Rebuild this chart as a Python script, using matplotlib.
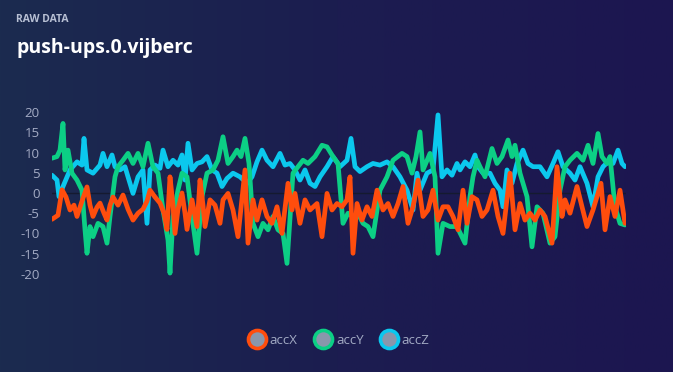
import numpy as np
import matplotlib
matplotlib.use("Agg")
import matplotlib.pyplot as plt
from matplotlib.lines import Line2D
from matplotlib.colors import LinearSegmentedColormap

# ---- data (sample position, value) ----
accX_t = [52,58,62,66,70,74,77,82,87,90,93,97,100,104,107,110,113,118,123,128,133,138,143,147,150,155,160,164,167,170,173,175,178,182,185,187,192,197,200,203,205,210,215,220,
          223,228,233,238,245,248,253,257,262,267,272,277,282,288,292,295,300,305,310,317,322,327,332,337,342,347,350,353,357,362,367,372,377,383,388,393,398,403,408,413,418,423,428,433,438,443,
          448,453,458,463,467,472,477,482,487,493,498,503,510,515,520,525,530,535,540,545,552,557,562,565,570,577,582,587,593,601,605,610,615,620,625]
accX_v = [-6.5,-5.5,0.8,-1,-4.2,-3,-5.8,-2,1.5,-3,-5.8,-3.5,-2.5,-5,-6.7,-3,-1,-3,-0.5,-4,-6.7,-5,-4,-2,0.7,-1,-2.5,-5,-9,4,-3,-10,-4,0,-5,-9,-1.7,-8.3,3.2,-3,-8.3,-1.7,-3,-7.5,
          -1.7,-0.1,-4.2,-10.8,5.7,-12.4,-1.7,-6.7,-1.7,-5.8,-7.5,-3.4,-10,2.4,-4.2,-0.1,-7.5,-1.7,-4.2,-2.6,-10.8,-0.1,-4.2,-2.6,-3.4,-1.7,4,-14.9,-2.6,-6.7,-3.4,-5.8,0.7,-4.2,-2.6,-5.8,-2.6,1.6,-7.5,-3.4,3.2,-5.8,-4.2,0.7,-6.7,-3.4,
          -3.4,-5.8,-9.1,0.7,-7.5,-0.9,-1.7,-5.8,-4.2,0.7,-5.8,-10,4.9,-9.1,-2.6,-6.7,-5,-6.7,-4.2,-5.8,-12.4,6.5,-5.8,-1.7,-5,1.6,-3.4,-8.3,-4.2,2.4,-9.1,-0.9,-5.8,0.7,-7.5]

accY_t = [52,57,60,63,65,68,72,77,82,85,87,90,93,98,103,107,110,115,118,123,128,133,138,143,148,153,158,163,168,170,173,178,182,187,192,197,202,207,213,218,223,228,
          233,237,241,245,249,253,258,263,268,273,278,283,287,293,298,303,308,315,322,327,333,338,343,348,353,358,363,368,373,380,387,393,402,407,412,416,420,423,430,435,438,
          443,450,457,465,470,473,477,480,485,492,497,502,508,512,515,520,527,532,537,543,550,555,560,565,570,577,583,588,593,598,602,607,610,615,620,625]
accY_v = [8.6,9,10.6,17.2,5.7,10.6,4.9,3.2,0.7,-9.1,-14.9,-8.3,-10.8,-7.5,-8.3,-12.4,-5.8,4,6.5,8.1,9.8,7.3,9.8,6.5,12.3,6.5,4.9,-4.2,-11.6,-19.8,-5.8,0.7,4.9,4,-5.8,-14.9,-0.9,4.9,5.7,8.1,13.9,7.3,
          9,10.6,9,13.5,7.3,-7.5,-10.8,-7.5,-9.1,-5.8,-9.1,-10,-17.4,4.9,6.5,8.1,7.3,9,11.8,11.4,9,7.3,-7.5,-5,-5.8,-5,-7.5,-8.3,-10.8,0.7,4,8.1,9.8,9,4.9,9,15.1,5.7,9.8,4,-14.9,
          -7.5,-8.3,-8.3,-12.4,-0.9,4,8.1,6.5,4,11,7.3,9,13.1,9,11.8,4.9,-0.9,-13.3,-3.4,-5,-12.4,-10.8,0.7,6.5,8.1,9.8,8.1,11.8,7.3,14.7,9,7.3,9,-3.4,-7.5,-7.9]

accZ_t = [52,57,59,63,70,77,82,84,87,93,100,103,107,112,115,120,125,128,133,138,143,147,150,155,160,163,168,173,178,182,185,188,192,197,202,207,212,217,222,227,
          233,240,247,252,257,262,267,273,280,285,290,295,300,305,310,315,320,327,333,340,347,351,355,360,367,373,380,387,393,400,407,413,417,420,427,433,438,442,
          447,452,457,460,465,470,475,478,483,490,495,500,503,507,512,517,523,528,533,540,547,553,558,563,570,575,580,587,593,598,603,608,613,618,622,625]
accZ_v = [4.4,3.2,-0.9,1.6,5.7,7.7,6.9,13.5,5.7,4.9,6.9,9.8,6.5,9.4,6.5,5.7,6.5,4,-0.1,4,5.7,-7.5,5.7,6.9,6.1,10.6,6.5,8.1,6.9,9.4,3.2,12.3,5.7,7.3,7.7,9,5.7,4.9,1.6,3.6,
          4.9,4,2.4,4,7.7,10.6,8.1,6.5,9.8,6.9,7.3,5.7,3.2,5.7,2.4,1.6,4,6.5,9,6.5,8.1,13.5,6.5,5.3,6.5,7.3,6.9,7.7,6.5,4,0.7,-4.2,4.9,0.7,4.9,5.7,19.3,4,
          5.7,4.4,7.3,5.7,7.7,6.5,9.4,6.5,4.9,4.9,2.4,0.7,-3.4,5.7,2.4,7.3,10.6,7.3,6.5,6.5,4,7.3,10.2,6.5,4.9,3.2,6.5,2.4,-3.4,4,6.5,7.7,7.3,10.6,7.3,6.5]

series = ["accX", "accY", "accZ"]
colors = {"accX": "#ff4d0d", "accY": "#0ccf85", "accZ": "#0bc8ee"}
yticks = [20, 15, 10, 5, 0, -5, -10, -15, -20]

W, H = 673, 372
fig = plt.figure(figsize=(W / 100, H / 100), dpi=100)

# background gradient
bg = fig.add_axes([0, 0, 1, 1], zorder=-10)
cmap = LinearSegmentedColormap.from_list("bg", ["#1b2b4f", "#1c1d50", "#1c1650"])
grad = np.linspace(0, 1, 256).reshape(1, -1)
bg.imshow(grad, aspect="auto", cmap=cmap, extent=[0, 1, 0, 1])
bg.set_axis_off()

ax = fig.add_axes([52 / W, 1 - 282 / H, 574 / W, 178 / H])
ax.patch.set_alpha(0)
ax.set_xlim(52, 626)
ax.set_ylim(-22, 22)

ax.axhline(0, color="#151a30", lw=1.0, zorder=1)

data = {"accX": (accX_t, accX_v), "accY": (accY_t, accY_v), "accZ": (accZ_t, accZ_v)}
order = {"accZ": 2, "accY": 3, "accX": 4}
for s in series:
    t, v = data[s]
    ax.plot(t, v, color=colors[s], lw=3.4, solid_joinstyle="round",
            solid_capstyle="round", zorder=order[s])

ax.set_yticks(yticks)
ax.set_yticklabels([str(y) for y in yticks])
ax.set_xticks([])
for sp in ax.spines.values():
    sp.set_visible(False)
ax.tick_params(axis="y", length=0, pad=9, labelsize=9.5, labelcolor="#a3abc4")
for lab in ax.get_yticklabels():
    lab.set_fontfamily("Open Sans")

fig.text(16 / W, 1 - 20 / H, "RAW DATA", color="#b8c0d4", fontsize=7.5,
         fontweight="bold", family="Open Sans", va="center", ha="left")
fig.text(16 / W, 1 - 48 / H, "push-ups.0.vijberc", color="white", fontsize=14,
         fontweight="bold", family="Open Sans", va="center", ha="left")

handles = [Line2D([], [], marker="o", linestyle="none", markersize=13,
                  markerfacecolor="#8a97ab", markeredgecolor=colors[s],
                  markeredgewidth=2.6) for s in series]
leg = fig.legend(handles, series, loc="center", bbox_to_anchor=(0.5, 1 - 340 / H),
                 ncol=3, frameon=False, handletextpad=0.0, columnspacing=0.9,
                 prop={"family": "Open Sans", "size": 9.5})
for txt in leg.get_texts():
    txt.set_color("#a3abc4")

fig.savefig("out.png", dpi=100)
